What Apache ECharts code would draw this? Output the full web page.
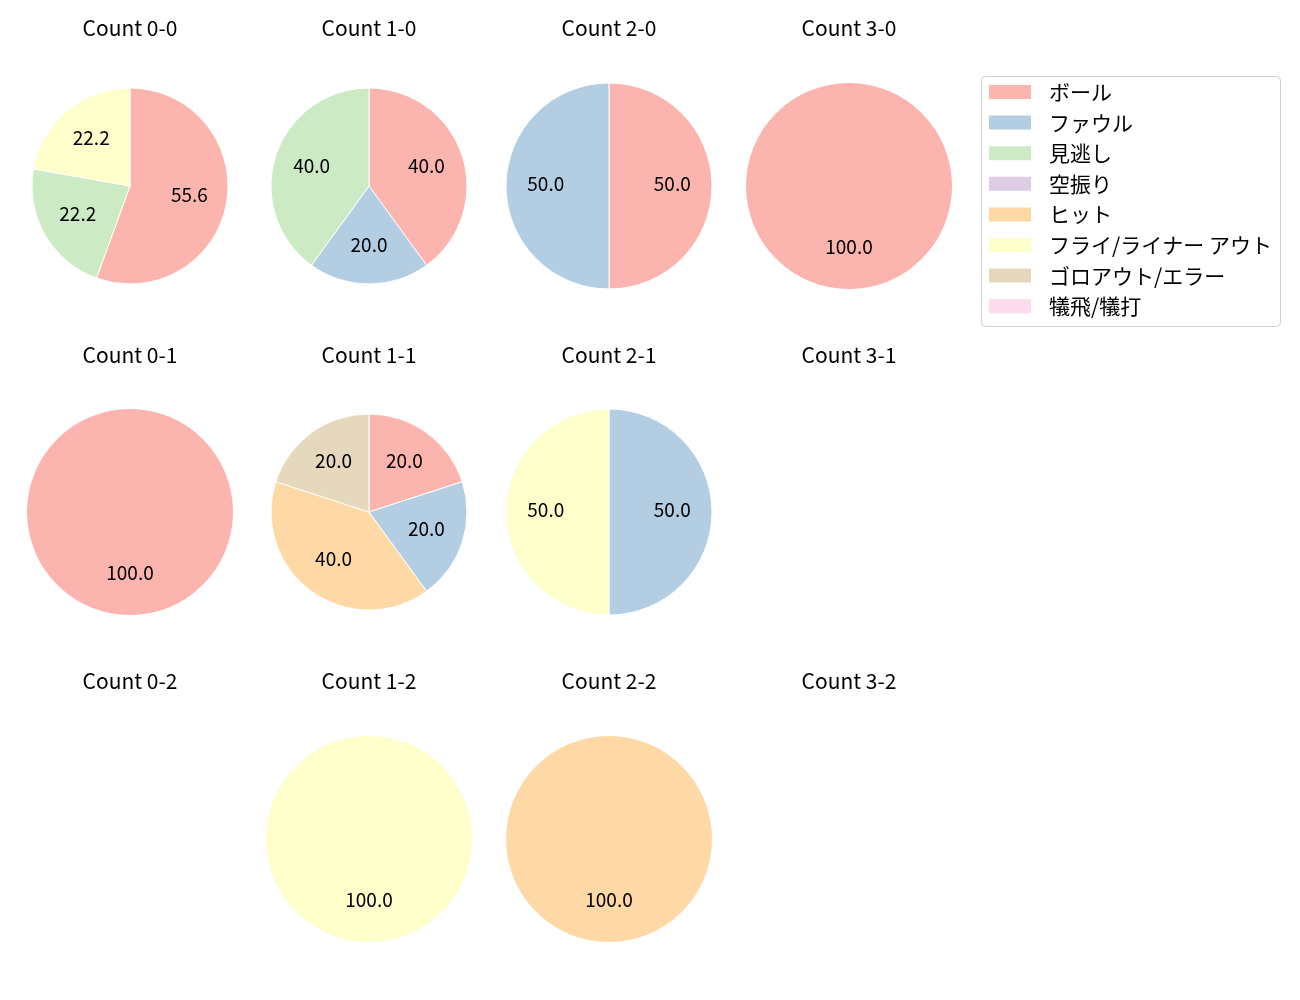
<!DOCTYPE html>
<html><head><meta charset="utf-8">
<script src="https://cdn.jsdelivr.net/npm/echarts@6/dist/echarts.min.js"></script>
<style>html,body{margin:0;padding:0;background:#fff}#c{width:1300px;height:1000px}</style>
</head><body><div id="c"></div>
<script>
const categories = ['ボール','ファウル','見逃し','空振り','ヒット','フライ/ライナー アウト','ゴロアウト/エラー','犠飛/犠打'];
const colors = ['#fbb4ae','#b3cde3','#ccebc5','#decbe4','#fed9a6','#ffffcc','#e5d8bd','#fddaec'];
// counts per category (same order as categories)
const count_0_0 = [5,0,2,0,0,2,0,0];
const count_1_0 = [2,1,2,0,0,0,0,0];
const count_2_0 = [1,1,0,0,0,0,0,0];
const count_3_0 = [1,0,0,0,0,0,0,0];
const count_0_1 = [1,0,0,0,0,0,0,0];
const count_1_1 = [1,1,0,0,2,0,1,0];
const count_2_1 = [0,1,0,0,0,1,0,0];
const count_3_1 = [0,0,0,0,0,0,0,0];
const count_0_2 = [0,0,0,0,0,0,0,0];
const count_1_2 = [0,0,0,0,0,1,0,0];
const count_2_2 = [0,0,0,0,1,0,0,0];
const count_3_2 = [0,0,0,0,0,0,0,0];
const panels = [
  ['Count 0-0', count_0_0, 0, 0], ['Count 1-0', count_1_0, 1, 0], ['Count 2-0', count_2_0, 2, 0], ['Count 3-0', count_3_0, 3, 0],
  ['Count 0-1', count_0_1, 0, 1], ['Count 1-1', count_1_1, 1, 1], ['Count 2-1', count_2_1, 2, 1], ['Count 3-1', count_3_1, 3, 1],
  ['Count 0-2', count_0_2, 0, 2], ['Count 1-2', count_1_2, 1, 2], ['Count 2-2', count_2_2, 2, 2], ['Count 3-2', count_3_2, 3, 2]
];

const FONT = '"Noto Sans CJK JP", "Noto Sans", sans-serif';
const colX = [130, 369, 609, 849];
const rowY = [186, 512, 839];
const titleY = [28, 355, 681];

const series = [{
  type: 'pie', silent: true, center: [-1000, -1000], radius: 10,
  label: {show: false}, labelLine: {show: false},
  data: categories.map((n, i) => ({name: n, value: 1, itemStyle: {color: colors[i]}}))
}];
const graphics = [];
panels.forEach(([title, vals, c, r]) => {
  graphics.push({type: 'text', x: colX[c], y: titleY[r], style: {text: title, font: '21px ' + FONT, fill: '#000', textAlign: 'center', textVerticalAlign: 'middle'}});
  const nz = vals.filter(v => v > 0).length;
  if (!nz) return;
  const rad = nz >= 3 ? 98 : 103;
  const data = [];
  vals.forEach((v, i) => { if (v > 0) data.push({name: categories[i], value: v, itemStyle: {color: colors[i]}}); });
  const total = vals.reduce((a, b) => a + b, 0);
  series.push({
    type: 'pie', center: [colX[c], rowY[r]], radius: [0, rad], startAngle: 90, clockwise: true,
    avoidLabelOverlap: false, label: {show: false}, labelLine: {show: false},
    itemStyle: {borderColor: '#fff', borderWidth: nz > 1 ? 1 : 0},
    emphasis: {disabled: true}, data: data
  });
  series.push({
    type: 'pie', center: [colX[c], rowY[r]], radius: [rad * 0.17, rad], startAngle: 90, clockwise: true,
    avoidLabelOverlap: false, silent: true,
    itemStyle: {color: 'rgba(0,0,0,0)', borderWidth: 0},
    label: {show: true, position: 'inside', color: '#000', fontFamily: FONT, fontSize: 19, offset: [0, -2],
      formatter: p => (p.value / total * 100).toFixed(1)},
    labelLine: {show: false}, emphasis: {disabled: true},
    data: data.map(d => ({name: d.name, value: d.value}))
  });
});
graphics.push({type: 'rect', shape: {x: 981.5, y: 76.5, width: 299, height: 250, r: 4}, style: {fill: '#fff', stroke: '#d0d0d0', lineWidth: 1}, z: -1});

const chart = echarts.init(document.getElementById('c'));
chart.setOption({
  backgroundColor: '#fff',
  animation: false,
  graphic: graphics,
  legend: {
    orient: 'vertical', left: 989, top: 81.5, padding: 0,
    itemWidth: 42, itemHeight: 14, itemGap: 9.6, icon: 'rect',
    selectedMode: false,
    textStyle: {fontFamily: FONT, fontSize: 21, color: '#000', lineHeight: 21, padding: [0, 0, 0, 13]},
    data: categories
  },
  series: series
});
</script></body></html>
